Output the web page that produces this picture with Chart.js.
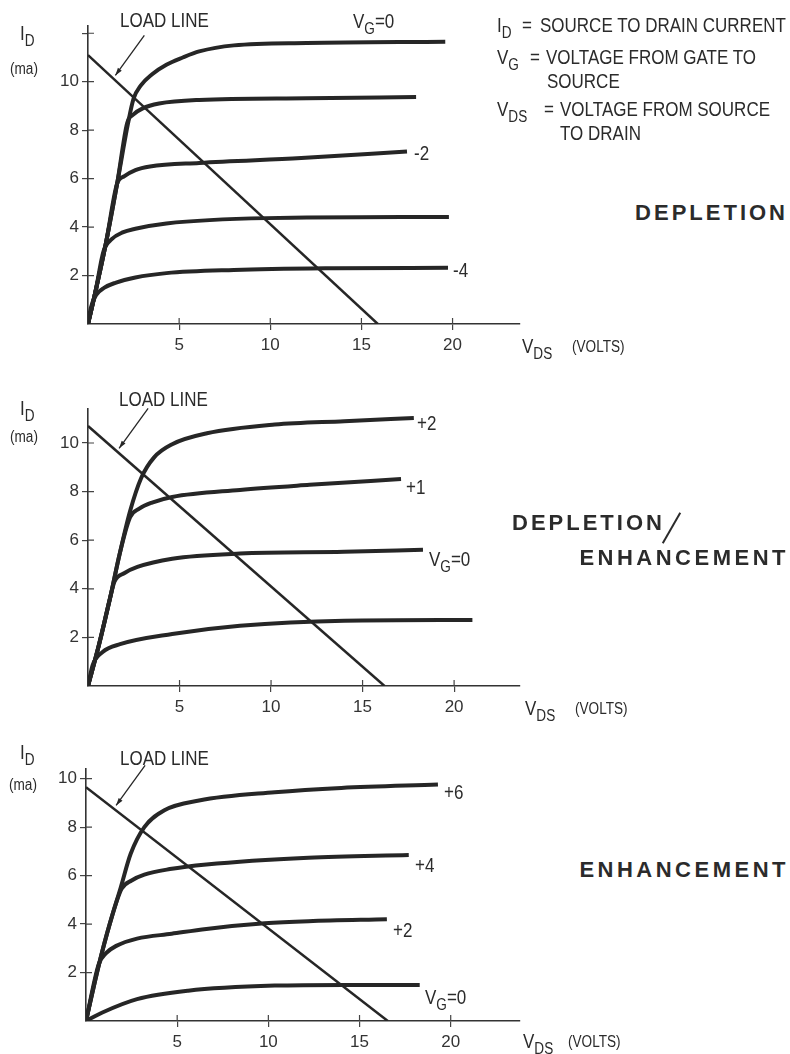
<!DOCTYPE html>
<html>
<head>
<meta charset="utf-8">
<script src="https://cdn.jsdelivr.net/npm/chart.js@4.4.1/dist/chart.umd.min.js"></script>
<style>
  body { margin: 0; background: #fff; }
  #page { position: relative; width: 790px; height: 1054px; overflow: hidden;
          font-family: "Liberation Sans", sans-serif; color: #2b2b2b; }
  .plot { position: absolute; left: 0; }
  .t { position: absolute; white-space: nowrap; font-size: 20px; line-height: 20px;
       transform: scaleX(0.85); transform-origin: left top; }
  .t sub { font-size: 0.8em; vertical-align: -0.4em; line-height: 0; }
  .sm { font-size: 16px; }
  .big { font-weight: bold; font-size: 22px; line-height: 22px; letter-spacing: 3px; transform: none; }
  .wide { letter-spacing: 3.5px; }
  .slash { position: absolute; width: 35px; height: 2px; background: #2b2b2b; transform-origin: center; }
</style>
</head>
<body>
<div id="page">
  <div class="plot" style="top:0"><canvas id="dep" width="560" height="360"></canvas></div>
  <div class="plot" style="top:360px"><canvas id="depenh" width="560" height="360"></canvas></div>
  <div class="plot" style="top:720px"><canvas id="enh" width="560" height="334"></canvas></div>

  <!-- depletion -->
  <div class="t" style="left:20px;top:23px">I<sub>D</sub></div>
  <div class="t sm" style="left:10px;top:59px">(ma)</div>
  <div class="t" style="left:120px;top:10px">LOAD LINE</div>
  <div class="t" style="left:353px;top:11px">V<sub>G</sub>=0</div>
  <div class="t" style="left:414px;top:143px">-2</div>
  <div class="t" style="left:453px;top:260px">-4</div>
  <div class="t" style="left:522px;top:336px">V<sub>DS</sub></div>
  <div class="t sm" style="left:572px;top:337px">(VOLTS)</div>

  <div class="t" style="left:497px;top:15px">I<sub>D</sub></div>
  <div class="t" style="left:522px;top:15px">=</div>
  <div class="t" style="left:540px;top:15px">SOURCE TO DRAIN CURRENT</div>
  <div class="t" style="left:497px;top:47px">V<sub>G</sub></div>
  <div class="t" style="left:530px;top:47px">=</div>
  <div class="t" style="left:546px;top:47px">VOLTAGE FROM GATE TO</div>
  <div class="t" style="left:547px;top:71px">SOURCE</div>
  <div class="t" style="left:497px;top:99px">V<sub>DS</sub></div>
  <div class="t" style="left:544px;top:99px">=</div>
  <div class="t" style="left:560px;top:99px">VOLTAGE FROM SOURCE</div>
  <div class="t" style="left:560px;top:123px">TO DRAIN</div>
  <div class="t big" style="right:2px;top:202px">DEPLETION</div>

  <!-- depletion / enhancement -->
  <div class="t" style="left:20px;top:398px">I<sub>D</sub></div>
  <div class="t sm" style="left:10px;top:427px">(ma)</div>
  <div class="t" style="left:119px;top:389px">LOAD LINE</div>
  <div class="t" style="left:417px;top:413px">+2</div>
  <div class="t" style="left:406px;top:477px">+1</div>
  <div class="t" style="left:429px;top:549px">V<sub>G</sub>=0</div>
  <div class="t" style="left:525px;top:698px">V<sub>DS</sub></div>
  <div class="t sm" style="left:575px;top:699px">(VOLTS)</div>
  <div class="t big" style="left:512px;top:512px">DEPLETION</div>
  <div class="slash" style="left:654px;top:527px;transform:rotate(-60deg)"></div>
  <div class="t big wide" style="right:1px;top:547px">ENHANCEMENT</div>

  <!-- enhancement -->
  <div class="t" style="left:20px;top:742px">I<sub>D</sub></div>
  <div class="t sm" style="left:9px;top:775px">(ma)</div>
  <div class="t" style="left:120px;top:748px">LOAD LINE</div>
  <div class="t" style="left:444px;top:782px">+6</div>
  <div class="t" style="left:415px;top:855px">+4</div>
  <div class="t" style="left:393px;top:920px">+2</div>
  <div class="t" style="left:425px;top:987px">V<sub>G</sub>=0</div>
  <div class="t" style="left:523px;top:1031px">V<sub>DS</sub></div>
  <div class="t sm" style="left:568px;top:1032px">(VOLTS)</div>
  <div class="t big wide" style="right:1px;top:859px">ENHANCEMENT</div>
</div>

<script>
// I-V curves: [VDS volts, ID ma]
const DEP_VG0 = [[0,0],[0.4,1.3],[1.0,3.4],[1.6,5.8],[2.2,8.3],[2.5,9.3],[2.9,9.85],[3.5,10.3],[4.3,10.7],[5.2,11.0],[6.1,11.25],[8,11.5],[12,11.6],[19.6,11.65]];
const DEP_VGM1 = [[0,0],[0.4,1.3],[1.0,3.4],[1.6,5.8],[2.15,8.3],[2.5,8.65],[3.0,8.9],[3.9,9.1],[6.1,9.25],[12,9.32],[18.0,9.37]];
const DEP_VGM2 = [[0,0],[0.4,1.3],[1.0,3.4],[1.6,5.8],[2.0,6.1],[2.6,6.35],[3.4,6.5],[6.1,6.65],[11.7,6.85],[17.5,7.12]];
const DEP_VGM3 = [[0,0],[0.4,1.3],[0.85,3.0],[1.3,3.5],[1.9,3.78],[2.6,3.93],[4.3,4.15],[9.8,4.37],[19.8,4.42]];
const DEP_VGM4 = [[0,0],[0.15,0.65],[0.45,1.2],[0.9,1.5],[1.5,1.7],[2.6,1.92],[4.3,2.1],[8,2.23],[13.5,2.3],[19.75,2.32]];
const DEP_LOAD = [[0,11.1],[15.9,0]];

const DE_VGP2 = [[0,0],[0.6,1.7],[1.2,3.6],[1.75,5.5],[2.3,7.2],[2.9,8.55],[3.6,9.4],[4.6,9.95],[6.5,10.4],[10.2,10.76],[14,10.9],[17.8,11.03]];
const DE_VGP1 = [[0,0],[0.6,1.7],[1.2,3.6],[1.75,5.5],[2.3,6.95],[2.8,7.3],[3.5,7.55],[4.6,7.78],[8.3,8.07],[12.1,8.28],[17.1,8.52]];
const DE_VG0 = [[0,0],[0.6,1.7],[1.2,3.6],[1.45,4.3],[2.0,4.65],[2.7,4.9],[4.6,5.24],[8.3,5.45],[14,5.52],[18.3,5.61]];
const DE_VGM1 = [[0,0],[0.25,0.85],[0.8,1.4],[1.75,1.72],[4.6,2.14],[8.3,2.48],[14,2.69],[21,2.72]];
const DE_LOAD = [[0,10.7],[16.2,0]];

const ENH_VGP6 = [[0,0],[0.7,2.3],[1.3,4.0],[1.9,5.5],[2.45,6.9],[3.2,8.0],[4.3,8.7],[6.2,9.1],[10.35,9.44],[14,9.62],[19.3,9.76]];
const ENH_VGP4 = [[0,0],[0.7,2.3],[1.3,4.0],[1.95,5.45],[2.5,5.8],[3.2,6.04],[4.6,6.27],[6.6,6.46],[12.2,6.74],[17.7,6.85]];
const ENH_VGP2 = [[0,0],[0.7,2.35],[1.1,2.8],[1.66,3.1],[2.8,3.4],[4.7,3.6],[6.6,3.8],[9.8,4.03],[12.2,4.12],[16.5,4.2]];
const ENH_VG0 = [[0,0],[0.9,0.35],[2.8,0.9],[5.6,1.25],[10.35,1.46],[14.1,1.49],[18.3,1.49]];
const ENH_LOAD = [[0,9.65],[16.55,0]];

const X_TICK_STEP = 5;
const Y_TICK_STEP = 2;

const INK = '#262626';
const TICK_FONT = { family: '"Liberation Sans", sans-serif', size: 17 };

// short tick half inside the plot, so ticks look like "+" crossing the axis
const crossTicks = {
  id: 'crossTicks',
  afterDraw: (chart) => {
    const { ctx, chartArea: a, scales: { x, y } } = chart;
    ctx.save();
    ctx.strokeStyle = '#444';
    ctx.lineWidth = 1.2;
    ctx.beginPath();
    x.ticks.forEach(t => {
      if (t.value === 0) return;
      const px = x.getPixelForValue(t.value);
      ctx.moveTo(px, a.bottom); ctx.lineTo(px, a.bottom - 6);
    });
    y.ticks.forEach(t => {
      if (t.value === 0) return;
      const py = y.getPixelForValue(t.value);
      ctx.moveTo(a.left, py); ctx.lineTo(a.left + 6, py);
    });
    ctx.stroke();
    ctx.restore();
  }
};

// the little arrow pointing at the load line
const loadArrow = {
  id: 'loadArrow',
  afterDraw: (chart, args, opts) => {
    const { ctx, scales: { x, y } } = chart;
    const load = chart.data.datasets[chart.data.datasets.length - 1].data;
    const p0 = load[0], p1 = load[1];
    const yv = p0.y + (p1.y - p0.y) * (opts.at - p0.x) / (p1.x - p0.x);
    const tx = x.getPixelForValue(opts.at), ty = y.getPixelForValue(yv) - 5;
    const sx = tx + 29, sy = ty - 40;
    const ang = Math.atan2(ty - sy, tx - sx);
    ctx.save();
    ctx.strokeStyle = INK; ctx.fillStyle = INK; ctx.lineWidth = 1.3;
    ctx.beginPath(); ctx.moveTo(sx, sy); ctx.lineTo(tx, ty); ctx.stroke();
    ctx.beginPath();
    ctx.moveTo(tx, ty);
    ctx.lineTo(tx - 8 * Math.cos(ang - 0.3), ty - 8 * Math.sin(ang - 0.3));
    ctx.lineTo(tx - 8 * Math.cos(ang + 0.3), ty - 8 * Math.sin(ang + 0.3));
    ctx.closePath(); ctx.fill();
    ctx.restore();
  }
};

const pts = (arr) => arr.map(p => ({ x: p[0], y: p[1] }));

function ivChart(id, curves, load, o) {
  const datasets = curves.map(c => ({
    data: pts(c), borderColor: INK, borderWidth: 4, pointRadius: 0,
    cubicInterpolationMode: 'monotone', borderCapStyle: 'butt', borderJoinStyle: 'round'
  }));
  datasets.push({ data: pts(load), borderColor: INK, borderWidth: 2.5, pointRadius: 0, tension: 0 });

  new Chart(document.getElementById(id), {
    type: 'line',
    data: { datasets },
    options: {
      responsive: false,
      animation: false,
      events: [],
      layout: { padding: { top: o.padTop, right: 40, left: 0, bottom: 0 } },
      plugins: { legend: { display: false }, tooltip: { enabled: false }, loadArrow: { at: o.arrowAt } },
      scales: {
        x: {
          type: 'linear', min: 0, max: o.xMax,
          ticks: { stepSize: X_TICK_STEP, includeBounds: false, font: TICK_FONT, color: '#333', padding: 5, maxRotation: 0,
                   callback: v => v === 0 ? '' : v },
          grid: { drawOnChartArea: false, tickLength: 6, lineWidth: 1.2,
                  color: c => c.tick && c.tick.value === 0 ? 'rgba(0,0,0,0)' : '#444' },
          border: { color: '#333', width: 1.6 },
          afterFit: s => { s.height = o.xH; }
        },
        y: {
          type: 'linear', min: 0, max: o.yMax,
          ticks: { stepSize: Y_TICK_STEP, includeBounds: false, font: TICK_FONT, color: '#333', padding: 3,
                   callback: v => (v === 0 || v > 10) ? '' : v },
          grid: { drawOnChartArea: false, tickLength: 6, lineWidth: 1.2,
                  color: c => c.tick && c.tick.value === 0 ? 'rgba(0,0,0,0)' : '#444' },
          border: { color: '#333', width: 1.6 },
          afterFit: s => { s.width = o.yW; }
        }
      }
    },
    plugins: [crossTicks, loadArrow]
  });
}

ivChart('dep', [DEP_VG0, DEP_VGM1, DEP_VGM2, DEP_VGM3, DEP_VGM4], DEP_LOAD,
  { padTop: 26, xH: 36, yW: 88, xMax: 23.7, yMax: 12.3, arrowAt: 1.5 });
ivChart('depenh', [DE_VGP2, DE_VGP1, DE_VG0, DE_VGM1], DE_LOAD,
  { padTop: 49, xH: 34, yW: 88, xMax: 23.6, yMax: 11.4, arrowAt: 1.7 });
ivChart('enh', [ENH_VGP6, ENH_VGP4, ENH_VGP2, ENH_VG0], ENH_LOAD,
  { padTop: 49, xH: 33, yW: 86, xMax: 23.8, yMax: 10.4, arrowAt: 1.65 });
</script>
</body>
</html>
